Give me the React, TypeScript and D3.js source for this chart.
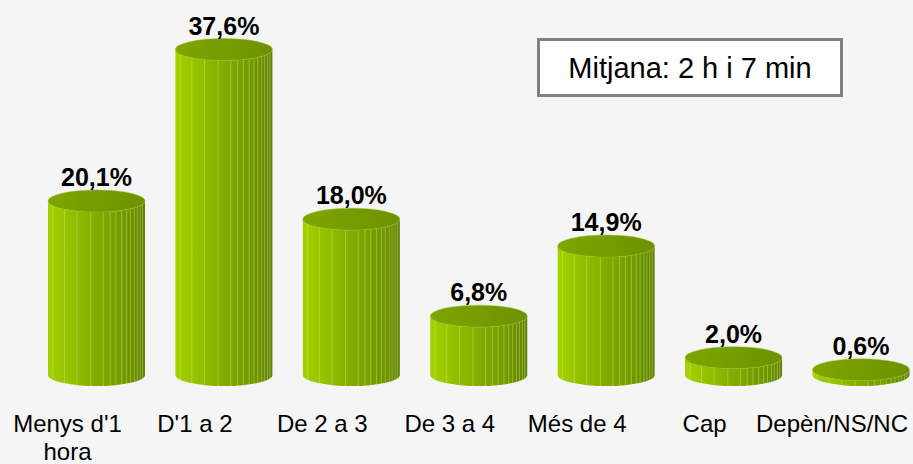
import React from "react";
import * as d3 from "d3";

const categories = ["Menys d'1\nhora", "D'1 a 2", "De 2 a 3", "De 3 a 4", "Més de 4", "Cap", "Depèn/NS/NC"];
const values = [20.1, 37.6, 18.0, 6.8, 14.9, 2.0, 0.6];
const valueLabels = ["20,1%", "37,6%", "18,0%", "6,8%", "14,9%", "2,0%", "0,6%"];
const noteText = "Mitjana: 2 h i 7 min";

const W = 913;
const H = 464;
const BASE = 375;
const RX = 48.5;
const RY = 11;
const stripes = [0.05, 0.17, 0.3, 0.44, 0.57, 0.64, 0.7, 0.76, 0.81, 0.85, 0.89, 0.92, 0.95, 0.975];

export default function App() {
  const x = d3.scalePoint<string>().domain(categories).range([96.5, 861]);
  const y = d3.scaleLinear().domain([0, 37.6]).range([BASE, 49.5]);
  const font = "'Liberation Sans', Arial, Helvetica, sans-serif";

  return (
    <svg width={W} height={H} style={{ position: "absolute", left: 0, top: 0, display: "block" }} fontFamily={font}>
      <defs>
        <linearGradient id="front" x1="0" x2="1" y1="0" y2="0">
          <stop offset="0" stopColor="#a4d200" />
          <stop offset="0.25" stopColor="#92c000" />
          <stop offset="0.5" stopColor="#82ac00" />
          <stop offset="0.8" stopColor="#729800" />
          <stop offset="1" stopColor="#60800a" />
        </linearGradient>
        <linearGradient id="top" x1="0" x2="1" y1="0" y2="0">
          <stop offset="0" stopColor="#7ea600" />
          <stop offset="1" stopColor="#6d9200" />
        </linearGradient>
      </defs>
      <rect x={0} y={0} width={W} height={H} fill="#f5f5f5" />
      {categories.map((c, i) => {
        const cx = x(c)!;
        const ty = y(values[i]);
        const l = cx - RX;
        const r = cx + RX;
        const front = `M${l},${ty} L${l},${BASE} A${RX},${RY} 0 0 0 ${r},${BASE} L${r},${ty} A${RX},${RY} 0 0 1 ${l},${ty} Z`;
        const cid = `clip${i}`;
        return (
          <g key={c}>
            <clipPath id={cid}>
              <path d={front} />
            </clipPath>
            <path d={front} fill="url(#front)" />
            <g clipPath={`url(#${cid})`}>
              {stripes.map((s, k) => (
                <line
                  key={k}
                  x1={l + s * 2 * RX}
                  x2={l + s * 2 * RX}
                  y1={ty - RY}
                  y2={BASE + RY}
                  stroke="#d8f070"
                  strokeOpacity={0.4}
                  strokeWidth={1}
                />
              ))}
            </g>
            <ellipse cx={cx} cy={ty} rx={RX} ry={RY} fill="url(#top)" stroke="#9cc420" strokeWidth={0.8} strokeOpacity={0.6} />
            <text x={cx} y={ty - 15} textAnchor="middle" fontWeight="bold" fontSize={25} fill="#000">
              {valueLabels[i]}
            </text>
            <text x={cx - 29} y={432} textAnchor="middle" fontSize={24} fill="#000">
              {c.split("\n").map((line, j) => (
                <tspan key={j} x={cx - 29} dy={j === 0 ? 0 : 28}>
                  {line}
                </tspan>
              ))}
            </text>
          </g>
        );
      })}
      <rect x={538.5} y={39.5} width={303} height={56} fill="#ffffff" stroke="#808080" strokeWidth={3} />
      <text x={690} y={78} textAnchor="middle" fontSize={29} fill="#000">
        {noteText}
      </text>
    </svg>
  );
}
